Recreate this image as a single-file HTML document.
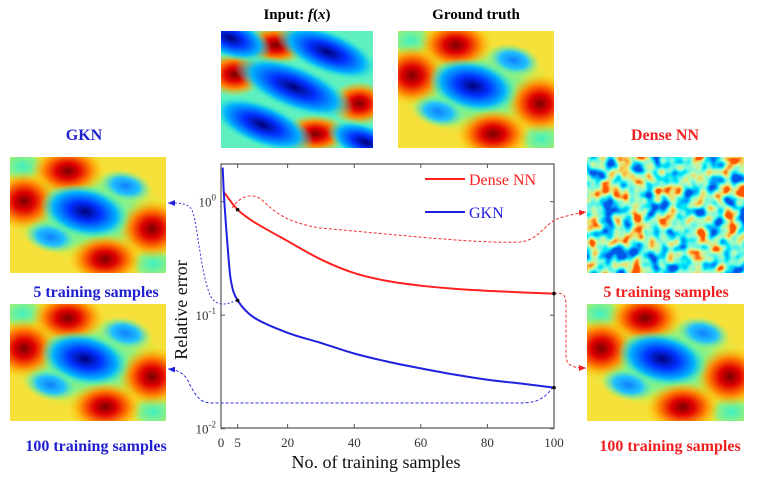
<!DOCTYPE html>
<html><head><meta charset="utf-8">
<style>
body{margin:0;background:#fff;width:757px;height:476px;overflow:hidden;font-family:"Liberation Serif",serif;}
svg text{font-family:"Liberation Serif",serif;}
</style></head><body>
<svg id="fig" width="757" height="476" viewBox="0 0 757 476" xmlns="http://www.w3.org/2000/svg">
<defs>
 <radialGradient id="gRed"><stop offset="0" stop-color="#7a0000"/><stop offset="0.3" stop-color="#e00000"/><stop offset="0.6" stop-color="#ff7a00"/><stop offset="1" stop-color="#ffd000" stop-opacity="0"/></radialGradient>
 <radialGradient id="gBlue"><stop offset="0" stop-color="#00007a"/><stop offset="0.35" stop-color="#0030ff"/><stop offset="0.7" stop-color="#00b0ff"/><stop offset="1" stop-color="#40ffc0" stop-opacity="0"/></radialGradient>
 <radialGradient id="gLBlue"><stop offset="0" stop-color="#1080ff"/><stop offset="0.5" stop-color="#20c0ff"/><stop offset="1" stop-color="#60ffa0" stop-opacity="0"/></radialGradient>
 <radialGradient id="gGreen"><stop offset="0" stop-color="#40f0c0"/><stop offset="0.6" stop-color="#90f080"/><stop offset="1" stop-color="#d0f040" stop-opacity="0"/></radialGradient>
 <filter id="noise" x="0" y="0" width="100%" height="100%">
  <feTurbulence type="fractalNoise" baseFrequency="0.065" numOctaves="2" seed="4"/>
  <feColorMatrix type="matrix" values="0 0 0 0 0  0 0 0 0 0  0 0 0 0 0  2.4 0 0 0 -0.7" result="n"/>
  <feColorMatrix in="n" type="matrix" values="0 0 0 1 0  0 0 0 1 0  0 0 0 1 0  0 0 0 0 1"/>
  <feComponentTransfer>
   <feFuncR type="table" tableValues="0 0 0 0.2 0.5 0.9 1"/>
   <feFuncG type="table" tableValues="0.1 0.4 0.85 0.95 0.95 0.7 0.1"/>
   <feFuncB type="table" tableValues="0.8 1 0.9 0.7 0.4 0.1 0"/>
  </feComponentTransfer>
 </filter>
 <g id="truth">
  <rect x="0" y="0" width="100" height="100" fill="#f6e03a"/>
  <ellipse cx="50" cy="50" rx="50" ry="40" fill="url(#gGreen)"/>
  <ellipse cx="8" cy="8" rx="16" ry="16" fill="url(#gGreen)"/>
  <ellipse cx="92" cy="92" rx="16" ry="16" fill="url(#gGreen)"/>
  <ellipse cx="37" cy="12" rx="24" ry="22" fill="url(#gRed)"/>
  <ellipse cx="9" cy="38" rx="22" ry="26" fill="url(#gRed)"/>
  <ellipse cx="91" cy="62" rx="22" ry="26" fill="url(#gRed)"/>
  <ellipse cx="61" cy="88" rx="24" ry="22" fill="url(#gRed)"/>
  <ellipse cx="48" cy="47" rx="30" ry="22" fill="url(#gBlue)" transform="rotate(25 48 47)"/>
  <ellipse cx="74" cy="25" rx="18" ry="13" fill="url(#gLBlue)" transform="rotate(25 74 25)"/>
  <ellipse cx="26" cy="69" rx="18" ry="13" fill="url(#gLBlue)" transform="rotate(25 26 69)"/>
 </g>
 <g id="input">
  <rect x="0" y="0" width="100" height="100" fill="#60f0c0"/>
  <ellipse cx="36" cy="12" rx="22" ry="17" fill="url(#gRed)"/>
  <ellipse cx="9" cy="37" rx="20" ry="19" fill="url(#gRed)"/>
  <ellipse cx="91" cy="62" rx="20" ry="19" fill="url(#gRed)"/>
  <ellipse cx="62" cy="88" rx="22" ry="17" fill="url(#gRed)"/>
  <ellipse cx="6" cy="6" rx="30" ry="17" fill="url(#gBlue)" transform="rotate(30 6 6)"/>
  <ellipse cx="70" cy="18" rx="38" ry="18" fill="url(#gBlue)" transform="rotate(30 70 18)"/>
  <ellipse cx="48" cy="48" rx="44" ry="19" fill="url(#gBlue)" transform="rotate(30 48 48)"/>
  <ellipse cx="27" cy="80" rx="38" ry="18" fill="url(#gBlue)" transform="rotate(30 27 80)"/>
  <ellipse cx="95" cy="95" rx="28" ry="15" fill="url(#gBlue)" transform="rotate(30 95 95)"/>
 </g>
 <marker id="arB" markerWidth="8" markerHeight="8" refX="7" refY="4" orient="auto"><path d="M0,1 L7,4 L0,7 Z" fill="#2020e0"/></marker>
 <marker id="arR" markerWidth="8" markerHeight="8" refX="7" refY="4" orient="auto"><path d="M0,1 L7,4 L0,7 Z" fill="#f02020"/></marker>
</defs>

<text x="297" y="19" font-size="15" font-weight="bold" text-anchor="middle">Input: <tspan font-style="italic">f</tspan>(<tspan font-style="italic">x</tspan>)</text>
<text x="476" y="19" font-size="15" font-weight="bold" text-anchor="middle">Ground truth</text>
<svg x="221" y="31" width="152" height="117" viewBox="0 0 100 100" preserveAspectRatio="none"><use href="#input"/></svg>
<svg x="398" y="31" width="156" height="117" viewBox="0 0 100 100" preserveAspectRatio="none"><use href="#truth"/></svg>

<text x="84" y="140" font-size="16" font-weight="bold" fill="#2020d0" text-anchor="middle">GKN</text>
<svg x="10" y="157" width="156" height="116" viewBox="0 0 100 100" preserveAspectRatio="none"><use href="#truth"/></svg>
<text x="96" y="297" font-size="16" font-weight="bold" fill="#2020d0" text-anchor="middle">5 training samples</text>
<svg x="10" y="304" width="156" height="117" viewBox="0 0 100 100" preserveAspectRatio="none"><use href="#truth"/></svg>
<text x="96" y="451" font-size="16" font-weight="bold" fill="#2020d0" text-anchor="middle">100 training samples</text>

<text x="665" y="140" font-size="16" font-weight="bold" fill="#f02020" text-anchor="middle">Dense NN</text>
<g>
 <rect x="587" y="157" width="157" height="116" fill="#40e0c0"/>
 <rect x="587" y="157" width="157" height="116" filter="url(#noise)"/>
</g>
<text x="666" y="297" font-size="16" font-weight="bold" fill="#f02020" text-anchor="middle">5 training samples</text>
<svg x="587" y="304" width="157" height="117" viewBox="0 0 100 100" preserveAspectRatio="none"><use href="#truth"/></svg>
<text x="670" y="451" font-size="16" font-weight="bold" fill="#f02020" text-anchor="middle">100 training samples</text>

<g id="chart"></g>
</svg>
<script>
const xsDense = [1, 5, 10, 20, 30, 40, 50, 60, 70, 80, 90, 100];
const dense = [1.2, 0.85, 0.66, 0.45, 0.31, 0.235, 0.2, 0.182, 0.171, 0.164, 0.159, 0.155];
const xsGkn = [0.5, 1, 2, 3, 5, 10, 20, 30, 40, 50, 60, 70, 80, 90, 100];
const gkn = [2.0, 1.0, 0.4, 0.2, 0.135, 0.095, 0.07, 0.057, 0.046, 0.039, 0.034, 0.03, 0.027, 0.025, 0.023];
const xTicks = [0, 5, 20, 40, 60, 80, 100];
const yTicks = [0, -1, -2];

const NS = "http://www.w3.org/2000/svg";
const L = 221, R = 554, T = 164, B = 428;
const X = v => L + (v / 100) * (R - L);
const Y = v => 201.7 - Math.log10(v) * 113.5;
const g = document.getElementById('chart');
function mk(tag, attrs, parent) {
  const e = document.createElementNS(NS, tag);
  for (const k in attrs) e.setAttribute(k, attrs[k]);
  (parent || g).appendChild(e);
  return e;
}
function smooth(xs, ys) {
  const p = xs.map((x, i) => [X(x), Y(ys[i])]);
  let d = `M${p[0][0]},${p[0][1]}`;
  for (let i = 0; i < p.length - 1; i++) {
    const p0 = p[i - 1] || p[i], p1 = p[i], p2 = p[i + 1], p3 = p[i + 2] || p2;
    const c1 = [p1[0] + (p2[0] - p0[0]) / 6, p1[1] + (p2[1] - p0[1]) / 6];
    const c2 = [p2[0] - (p3[0] - p1[0]) / 6, p2[1] - (p3[1] - p1[1]) / 6];
    d += ` C${c1[0]},${c1[1]} ${c2[0]},${c2[1]} ${p2[0]},${p2[1]}`;
  }
  return d;
}
const box = mk('rect', {x: L, y: T, width: R - L, height: B - T, fill: 'none', stroke: '#555', 'stroke-width': 1.2});


xTicks.forEach(t => {
  mk('line', {x1: X(t), x2: X(t), y1: B, y2: B - 4, stroke: '#555'});
  mk('line', {x1: X(t), x2: X(t), y1: T, y2: T + 4, stroke: '#555'});
  const tx = mk('text', {x: X(t), y: 447, 'font-size': 13, 'text-anchor': 'middle', fill: '#333'});
  tx.textContent = t;
  
  
});
yTicks.forEach(e => {
  const y = Y(Math.pow(10, e));
  mk('line', {x1: L, x2: L + 4, y1: y, y2: y, stroke: '#555'});
  mk('line', {x1: R, x2: R - 4, y1: y, y2: y, stroke: '#555'});
  const tx = mk('text', {x: 216, y: y + 5, 'font-size': 13, 'text-anchor': 'end', fill: '#333'});
  tx.innerHTML = '10<tspan dy="-6" font-size="9">' + e + '</tspan>';
  
  
});
const xl = mk('text', {x: 376, y: 468, 'font-size': 18, 'text-anchor': 'middle', fill: '#111'});
xl.textContent = 'No. of training samples';


const yl = mk('text', {x: 0, y: 0, 'font-size': 18, 'text-anchor': 'middle', fill: '#111', transform: 'translate(187,310) rotate(-90)'});
yl.textContent = 'Relative error';



const c1 = mk('path', {d: 'M232,208 C240,196 252,192 262,200 C275,212 285,222 320,228 C400,235 480,244 520,242 C540,240 545,222 560,218 C570,215 578,213 586,212', fill: 'none', stroke: '#f03030', 'stroke-dasharray': '3,2', 'stroke-width': 1, 'marker-end': 'url(#arR)'});


const c2 = mk('path', {d: 'M554,293 C566,293 566,296 566,310 L566,355 C566,365 572,368 586,368', fill: 'none', stroke: '#f03030', 'stroke-dasharray': '3,2', 'stroke-width': 1, 'marker-end': 'url(#arR)'});


const c3 = mk('path', {d: 'M237,300 C225,306 215,306 210,295 C200,270 198,225 192,210 C188,203 180,203 168,203', fill: 'none', stroke: '#3030e0', 'stroke-dasharray': '2,2', 'stroke-width': 1, 'marker-end': 'url(#arB)'});


const c4 = mk('path', {d: 'M553,387 C545,398 538,403 520,403 L212,403 C200,403 196,396 190,385 C186,375 180,370 168,369', fill: 'none', stroke: '#3030e0', 'stroke-dasharray': '3,2', 'stroke-width': 1, 'marker-end': 'url(#arB)'});



const ld = mk('path', {d: smooth(xsDense, dense), fill: 'none', stroke: '#ff2020', 'stroke-width': 2});


const lg = mk('path', {d: smooth(xsGkn, gkn), fill: 'none', stroke: '#2020e0', 'stroke-width': 2});


[[5, dense[xsDense.indexOf(5)]], [100, dense[dense.length - 1]], [5, gkn[xsGkn.indexOf(5)]], [100, gkn[gkn.length - 1]]].forEach(p => {
  const m = mk('circle', {cx: X(p[0]), cy: Y(p[1]), r: 1.8, fill: '#111'});
  
  
});

const le1 = mk('line', {x1: 425, x2: 465, y1: 179, y2: 179, stroke: '#ff2020', 'stroke-width': 2});


const lt1 = mk('text', {x: 469, y: 185, 'font-size': 16, fill: '#ff2020'});
lt1.textContent = 'Dense NN';


const le2 = mk('line', {x1: 425, x2: 465, y1: 212, y2: 212, stroke: '#2020e0', 'stroke-width': 2});


const lt2 = mk('text', {x: 469, y: 218, 'font-size': 16, fill: '#2020e0'});
lt2.textContent = 'GKN';


</script>
</body></html>
